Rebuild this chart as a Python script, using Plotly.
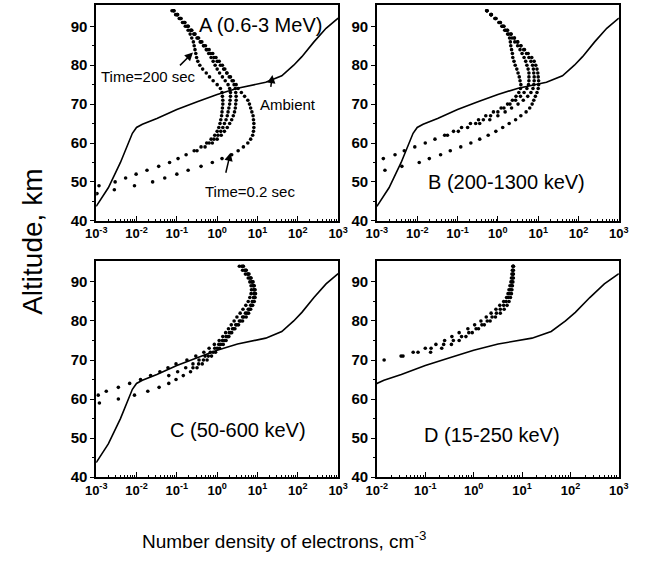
import plotly.graph_objects as go

FONT = "Liberation Sans, Arial, Helvetica, sans-serif"

# Ambient electron density profile (cm^-3) vs altitude (km)
ambient_density = [1.0e-3, 2.0e-3, 4.0e-3, 7.9e-3, 1.0e-2, 1.4e-2, 3.2e-2, 0.10, 0.32,
                   1.0, 3.2, 6.3, 16, 40, 79, 126, 251, 501, 1000]
ambient_alt = [43.7, 48.5, 55.0, 62.5, 64.0, 64.8, 66.3, 68.6, 70.6,
               72.5, 74.1, 74.8, 75.6, 77.3, 80.0, 82.2, 86.0, 89.5, 92.1]

# Precipitation-induced profiles: log10 of density (cm^-3) on a 1-km altitude grid,
# each starting at the given altitude.
# Panel A (0.6-3 MeV)
a_t02_start = 47
a_t02_logn = [-2.98, -2.55, -2.05, -1.6, -1.3, -1.0, -0.72, -0.4, -0.12, 0.12, 0.36, 0.52,
              0.65, 0.76, 0.83, 0.88, 0.90, 0.91, 0.91, 0.90, 0.89, 0.86, 0.83, 0.80, 0.76,
              0.68, 0.60, 0.52, 0.47, 0.40, 0.33, 0.24, 0.16, 0.08, 0.0, -0.08, -0.16, -0.25,
              -0.33, -0.42, -0.5, -0.58, -0.66, -0.75, -0.83, -0.92, -1.0, -1.08]
a_mid2_start = 58
a_mid2_logn = [-0.5, -0.3, -0.12, 0.0, 0.1, 0.18, 0.25, 0.31, 0.36, 0.4, 0.43, 0.45, 0.46,
               0.47, 0.47, 0.46, 0.45, 0.42, 0.37, 0.3, 0.24, 0.19, 0.13, 0.05, -0.03, -0.11,
               -0.2, -0.29, -0.38, -0.46, -0.55, -0.63, -0.72, -0.8, -0.9, -0.98, -1.07]
a_mid1_start = 60
a_mid1_logn = [-0.2, -0.08, 0.02, 0.09, 0.14, 0.18, 0.22, 0.25, 0.27, 0.29, 0.31, 0.32, 0.33,
               0.33, 0.31, 0.27, 0.2, 0.13, 0.06, 0.0, -0.05, -0.1, -0.15, -0.21, -0.27,
               -0.34, -0.41, -0.48, -0.56, -0.64, -0.72, -0.81, -0.9, -0.99, -1.08]
a_t200_start = 49
a_t200_logn = [-2.93, -2.53, -2.27, -2.01, -1.74, -1.45, -1.18, -0.97, -0.77, -0.57, -0.4,
               -0.26, -0.15, -0.06, 0.0, 0.04, 0.07, 0.09, 0.11, 0.12, 0.13, 0.14, 0.14, 0.13,
               0.12, 0.08, 0.0, -0.1, -0.19, -0.27, -0.36, -0.43, -0.48, -0.51, -0.53, -0.55,
               -0.57, -0.59, -0.63, -0.67, -0.72, -0.79, -0.86, -0.94, -1.03, -1.12]

# Panel B (200-1300 keV)
b_t02_start = 53
b_t02_logn = [-2.8, -2.38, -1.95, -1.7, -1.42, -1.18, -0.92, -0.67, -0.45, -0.24, -0.05, 0.12,
              0.28, 0.44, 0.57, 0.7, 0.79, 0.85, 0.89, 0.93, 0.97, 1.0, 1.01, 1.01, 1.0, 0.99,
              0.97, 0.94, 0.9, 0.84, 0.75, 0.66, 0.57, 0.49, 0.41, 0.32, 0.23, 0.14, 0.06,
              -0.05, -0.17, -0.28]
b_mid2_start = 65
b_mid2_logn = [-0.45, -0.2, 0.0, 0.18, 0.34, 0.5, 0.63, 0.74, 0.82, 0.87, 0.89, 0.9, 0.9,
               0.89, 0.88, 0.86, 0.82, 0.77, 0.71, 0.64, 0.57, 0.49, 0.41, 0.33, 0.24, 0.15,
               0.06, -0.05, -0.16, -0.27]
b_mid1_start = 62
b_mid1_logn = [-1.25, -0.98, -0.75, -0.55, -0.36, -0.18, 0.0, 0.15, 0.3, 0.44, 0.56, 0.65,
               0.72, 0.76, 0.77, 0.77, 0.77, 0.75, 0.72, 0.69, 0.65, 0.6, 0.55, 0.49, 0.42,
               0.35, 0.27, 0.19, 0.11, 0.03, -0.07, -0.17, -0.27]
b_t200_start = 56
b_t200_logn = [-2.84, -2.55, -2.32, -2.06, -1.8, -1.56, -1.32, -1.1, -0.9, -0.68, -0.48, -0.3,
               -0.11, 0.08, 0.24, 0.36, 0.45, 0.52, 0.56, 0.57, 0.55, 0.53, 0.5, 0.47, 0.43,
               0.4, 0.37, 0.36, 0.34, 0.32, 0.31, 0.29, 0.24, 0.17, 0.1, 0.03, -0.07, -0.17,
               -0.27]

# Panel C (50-600 keV)
c_t02_start = 59
c_t02_logn = [-2.92, -2.45, -2.05, -1.72, -1.44, -1.2, -1.02, -0.84, -0.66, -0.5, -0.37,
              -0.25, -0.14, -0.04, 0.06, 0.15, 0.22, 0.29, 0.36, 0.44, 0.53, 0.63, 0.72, 0.78,
              0.83, 0.88, 0.92, 0.94, 0.95, 0.94, 0.92, 0.89, 0.84, 0.79, 0.72, 0.65]
c_mid2_start = 68
c_mid2_logn = [-0.6, -0.46, -0.34, -0.22, -0.1, 0.0, 0.09, 0.18, 0.26, 0.33, 0.41, 0.49, 0.58,
               0.66, 0.74, 0.8, 0.85, 0.89, 0.92, 0.93, 0.92, 0.9, 0.87, 0.83, 0.77, 0.71, 0.64]
c_mid1_start = 66
c_mid1_logn = [-1.2, -0.98, -0.78, -0.6, -0.45, -0.3, -0.17, -0.06, 0.04, 0.13, 0.22, 0.3,
               0.38, 0.46, 0.55, 0.63, 0.7, 0.77, 0.83, 0.87, 0.9, 0.91, 0.91, 0.89, 0.86,
               0.81, 0.75, 0.68, 0.61]
c_t200_start = 61
c_t200_logn = [-2.95, -2.75, -2.45, -2.17, -1.9, -1.65, -1.42, -1.22, -1.02, -0.75, -0.53,
               -0.33, -0.2, -0.07, 0.05, 0.14, 0.21, 0.28, 0.35, 0.42, 0.49, 0.57, 0.64, 0.71,
               0.77, 0.81, 0.84, 0.85, 0.84, 0.81, 0.77, 0.7, 0.63, 0.55]

# Panel D (15-250 keV)
d_p3_start = 72
d_p3_logn = [-0.89, -0.66, -0.46, -0.3, -0.16, -0.03, 0.1, 0.22, 0.34, 0.45, 0.55, 0.63, 0.69,
             0.73, 0.76, 0.78, 0.79, 0.8, 0.81, 0.82, 0.82, 0.82, 0.82]
d_p2_start = 71
d_p2_logn = [-1.46, -1.15, -0.88, -0.62, -0.42, -0.25, -0.1, 0.05, 0.17, 0.28, 0.38, 0.47,
             0.55, 0.62, 0.67, 0.71, 0.74, 0.76, 0.78, 0.79, 0.8, 0.81, 0.81, 0.82]
d_p1_start = 70
d_p1_logn = [-1.85, -1.5, -1.25, -1.0, -0.78, -0.6, -0.45, -0.3, -0.12, 0.02, 0.15, 0.26,
             0.36, 0.46, 0.54, 0.62, 0.68, 0.71, 0.73, 0.75, 0.77, 0.78, 0.79, 0.8, 0.81]

panels = [
    ("x", "y", [(a_t02_start, a_t02_logn), (a_mid2_start, a_mid2_logn),
                (a_mid1_start, a_mid1_logn), (a_t200_start, a_t200_logn)]),
    ("x2", "y2", [(b_t02_start, b_t02_logn), (b_mid2_start, b_mid2_logn),
                  (b_mid1_start, b_mid1_logn), (b_t200_start, b_t200_logn)]),
    ("x3", "y3", [(c_t02_start, c_t02_logn), (c_mid2_start, c_mid2_logn),
                  (c_mid1_start, c_mid1_logn), (c_t200_start, c_t200_logn)]),
    ("x4", "y4", [(d_p3_start, d_p3_logn), (d_p2_start, d_p2_logn),
                  (d_p1_start, d_p1_logn)]),
]

fig = go.Figure()
for xa, ya, profiles in panels:
    fig.add_trace(go.Scatter(x=ambient_density, y=ambient_alt, xaxis=xa, yaxis=ya,
                             mode="lines", line=dict(color="black", width=1.6),
                             showlegend=False, hoverinfo="skip"))
    for start, logn in profiles:
        fig.add_trace(go.Scatter(
            x=[10.0 ** v for v in logn],
            y=list(range(start, start + len(logn))),
            xaxis=xa, yaxis=ya, mode="markers",
            marker=dict(color="black", size=3.6, symbol="circle"),
            showlegend=False, hoverinfo="skip"))

W, H = 655, 563
left_dom = [88 / W, 338 / W]
right_dom = [378 / W, 628 / W]
top_dom = [1 - 224 / H, 1 - 5 / H]
bot_dom = [1 - 484 / H, 1 - 265 / H]

tick_font = dict(family=FONT, size=13, color="black", weight="bold")


def x_axis(dom, lo, anchor):
    exps = list(range(lo, 4))
    return dict(
        domain=dom, anchor=anchor, type="log", range=[lo, 3],
        tickmode="array", tickvals=[10.0 ** e for e in exps],
        ticktext=[f"10<sup>{e}</sup>" for e in exps],
        ticks="inside", ticklen=5, tickwidth=1.3, tickcolor="black",
        showline=True, linecolor="black", linewidth=1.6, mirror=True,
        showgrid=False, zeroline=False, tickfont=tick_font,
        minor=dict(tickmode="array",
                   tickvals=[m * 10.0 ** e for e in range(lo, 3) for m in range(2, 10)],
                   ticks="inside", ticklen=2.5, tickwidth=1, tickcolor="black",
                   showgrid=False),
    )


def y_axis(dom, anchor, top):
    return dict(
        domain=dom, anchor=anchor, range=[40, top],
        tickmode="array", tickvals=[40, 50, 60, 70, 80, 90],
        ticks="outside", ticklen=4, tickwidth=1.3, tickcolor="black",
        showline=True, linecolor="black", linewidth=1.6, mirror=True,
        showgrid=False, zeroline=False, tickfont=dict(family=FONT, size=15, color="black",
                                                      weight="bold"),
        minor=dict(tickmode="array", tickvals=[45, 55, 65, 75, 85],
                   ticks="outside", ticklen=2.5, tickwidth=1, tickcolor="black",
                   showgrid=False),
    )


fig.update_layout(
    width=W, height=H, margin=dict(l=0, r=0, t=0, b=0),
    paper_bgcolor="white", plot_bgcolor="white", showlegend=False,
    xaxis=x_axis(left_dom, -3, "y"), yaxis=y_axis(top_dom, "x", 95.5),
    xaxis2=x_axis(right_dom, -3, "y2"), yaxis2=y_axis(top_dom, "x2", 95.5),
    xaxis3=x_axis(left_dom, -3, "y3"), yaxis3=y_axis(bot_dom, "x3", 95.3),
    xaxis4=x_axis(right_dom, -2, "y4"), yaxis4=y_axis(bot_dom, "x4", 95.3),
)

label_font = dict(family=FONT, size=20, color="black")
note_font = dict(family=FONT, size=15, color="black")


def text_at(text, px, py, font, angle=0):
    return dict(text=text, x=px / W, y=1 - py / H, xref="paper", yref="paper",
                xanchor="center", yanchor="middle", showarrow=False, font=font,
                textangle=angle)


def arrow_to(xlog, alt, ax, ay):
    return dict(text=" ", x=xlog, y=alt, xref="x", yref="y", showarrow=True,
                ax=ax, ay=ay, arrowhead=2, arrowsize=1.1, arrowwidth=1.5,
                arrowcolor="black")


annotations = [
    # panel titles
    text_at("A (0.6-3 MeV)", 258, 25, label_font),
    text_at("B (200-1300 keV)", 512, 185, label_font),
    text_at("C (50-600 keV)", 235, 436, label_font),
    text_at("D (15-250 keV)", 497, 441, label_font),
    # panel A callouts
    text_at("Time=200 sec", 142, 78, note_font),
    text_at("Ambient", 286, 106, note_font),
    text_at("Time=0.2 sec", 247, 194, note_font),
    arrow_to(-0.6, 83.3, -16, 16),
    arrow_to(1.37, 77.5, -3, 22),
    arrow_to(0.33, 57.5, -7, 30),
    # shared axis titles
    text_at("Altitude, km", 22, 245, dict(family=FONT, size=28, color="black"), -90),
    text_at("Number density of electrons, cm<sup>-3</sup>", 282, 548,
            dict(family=FONT, size=19, color="black")),
]
fig.update_layout(annotations=annotations)

fig.write_html("out.html")
